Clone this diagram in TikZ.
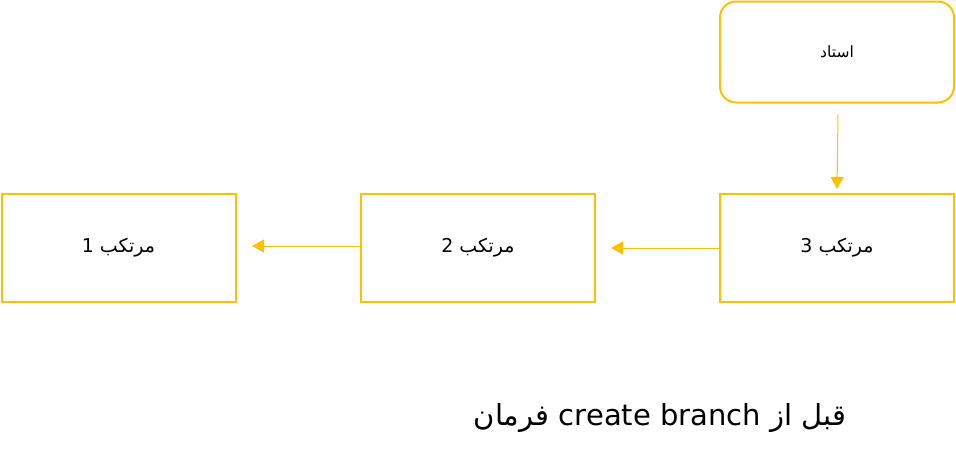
\documentclass[tikz,border=0pt]{standalone}
\usepackage{fontspec}
\setmainfont{DejaVu Sans}
\newfontfamily\arabicfont[Script=Arabic]{DejaVu Sans}
\TeXXeTstate=1
\usetikzlibrary{arrows.meta}
\definecolor{accent}{HTML}{FFC000}
\tikzset{
  box/.style={draw=accent, line width=2pt, minimum width=234pt, minimum height=108pt, inner sep=0pt, font=\arabicfont\fontsize{19}{22}\selectfont},
  rbox/.style={box, rounded corners=16pt, minimum height=101pt, font=\arabicfont\fontsize{15.5}{18}\selectfont},
  link/.style={draw=accent, line width=1pt, -{Triangle[width=13pt,length=12pt]}}
}
\begin{document}
\begin{tikzpicture}[x=1pt,y=-1pt]
\useasboundingbox (0,0) rectangle (956,464);
\node[box] (m1) at (118.5,247.5) {\beginR مرتکب 1\endR};
\node[box] (m2) at (478,247.5) {\beginR مرتکب 2\endR};
\node[box] (m3) at (837,247.5) {\beginR مرتکب 3\endR};
\node[rbox] (t) at (837,52) {\beginR استاد\endR};
\coordinate (a1) at (252,246);
\coordinate (a2) at (611,248);
\coordinate (s3) at (838,115);
\coordinate (e3) at (837,189);
\draw[link] (m2.west |- a1) -- (a1);
\draw[link] (m3.west |- a2) -- (a2);
\draw[link] (s3) -- (e3);
\node[font=\arabicfont\fontsize{29}{34}\selectfont] (cap) at (660,418) {\beginR قبل از \beginL create branch\endL{} فرمان\endR};
\end{tikzpicture}
\end{document}
